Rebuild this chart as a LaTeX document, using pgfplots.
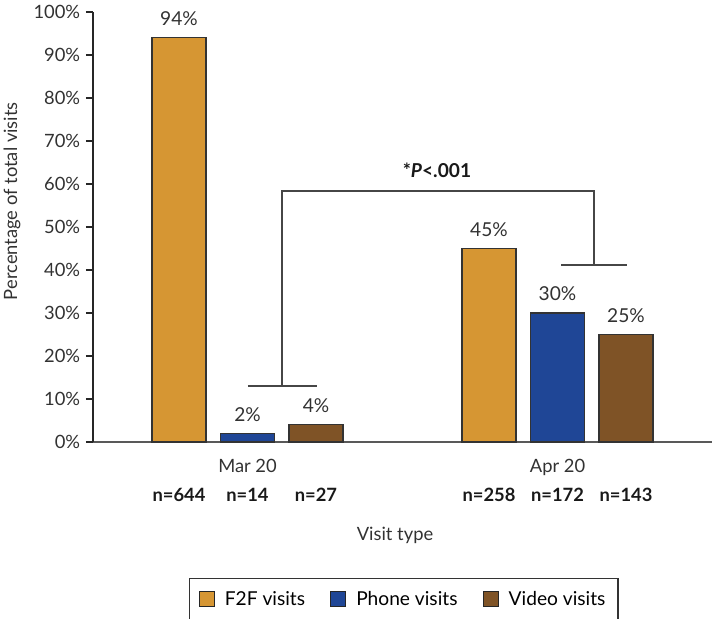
\documentclass[border=0pt]{standalone}
\usepackage{pgfplots}
\pgfplotsset{compat=1.18}
\usepackage{fontspec}
\setmainfont{Lato}
\definecolor{ftof}{RGB}{214,150,51}
\definecolor{phone}{RGB}{31,70,150}
\definecolor{video}{RGB}{127,83,38}
\definecolor{brk}{RGB}{70,70,70}
\definecolor{txt}{RGB}{50,50,50}

\begin{document}
\begin{tikzpicture}[font=\fontsize{11}{13}\selectfont,
  nlab/.style={font=\fontsize{11}{13}\selectfont\bfseries, text=black!90, yshift=-31.8pt}]
\begin{axis}[
  name=ax,
  scale only axis, width=371.4pt, height=258pt,
  xmin=93, xmax=712, ymin=0, ymax=100,
  clip=false,
  axis x line*=bottom, axis y line*=left,
  x axis line style={black!65, line width=1.1pt},
  y axis line style={black!85, line width=0.8pt},
  ytick={0,10,...,100},
  yticklabels={0\%,10\%,20\%,30\%,40\%,50\%,60\%,70\%,80\%,90\%,100\%},
  tick align=outside, major tick length=4.2pt,
  ytick style={black!85, line width=0.8pt},
  xtick={247.5,557.5}, xticklabels={Mar 20, Apr 20},
  xtick style={draw=none},
  xticklabel style={yshift=-2.6pt, text=txt},
  yticklabel style={text=txt},
  /pgf/number format/assume math mode=true,
  ybar, bar width=54,
  every axis plot/.append style={draw=black!80, line width=0.7pt, bar shift=0pt},
  nodes near coords={\pgfmathprintnumber{\pgfplotspointmeta}\%},
  nodes near coords style={text=txt, yshift=3.5pt, font=\fontsize{11.5}{13}\selectfont},
  legend columns=3,
  legend style={at={(0.502,-0.366)}, anchor=center, draw=black!80, line width=0.8pt,
    inner xsep=5.5pt, inner ysep=5.5pt, font=\fontsize{11.5}{14}\selectfont,
    /tikz/every odd column/.append style={column sep=4pt},
    /tikz/every even column/.append style={column sep=13pt}},
  legend cell align=left,
]
\addplot[fill=ftof, bar shift=0pt,
  legend image code/.code={\draw[fill=ftof, draw=black!85, line width=0.7pt] (0pt,-4.5pt) rectangle (9pt,4.5pt);}]
  coordinates {(179,94) (489,45)};
\addplot[fill=phone, bar shift=0pt,
  legend image code/.code={\draw[fill=phone, draw=black!85, line width=0.7pt] (0pt,-4.5pt) rectangle (9pt,4.5pt);}]
  coordinates {(247.5,2) (557.5,30)};
\addplot[fill=video, bar shift=0pt,
  legend image code/.code={\draw[fill=video, draw=black!85, line width=0.7pt] (0pt,-4.5pt) rectangle (9pt,4.5pt);}]
  coordinates {(316,4) (626,25)};
\legend{F2F visits, Phone visits, Video visits}

% significance bracket
\draw[brk, line width=0.8pt] (axis cs:248,13.0) -- (axis cs:317,13.0);
\draw[brk, line width=0.8pt] (axis cs:282,13.0) -- (axis cs:282,58.4) -- (axis cs:594,58.4) -- (axis cs:594,41.2);
\draw[brk, line width=0.8pt] (axis cs:561,41.2) -- (axis cs:627,41.2);
\node[text=black!90, font=\fontsize{11.5}{13}\selectfont\bfseries] at (axis cs:437,63.2) {*\textit{P}<.001};

% sample sizes
\node[nlab] at (axis cs:179,0) {n=644};
\node[nlab] at (axis cs:247.5,0) {n=14};
\node[nlab] at (axis cs:316,0) {n=27};
\node[nlab] at (axis cs:489,0) {n=258};
\node[nlab] at (axis cs:557.5,0) {n=172};
\node[nlab] at (axis cs:626,0) {n=143};

% axis titles
\node[text=txt, yshift=-55.8pt] at (axis cs:395,0) {Visit type};
\node[text=txt, rotate=90] at ([xshift=-48.6pt]axis cs:93,56) {Percentage of total visits};
\end{axis}
\pgfresetboundingbox
\path[use as bounding box] ([shift={(-55.8pt,-106.2pt)}]ax.south west) rectangle ([shift={(372pt,265.2pt)}]ax.south west);
\end{tikzpicture}
\end{document}
